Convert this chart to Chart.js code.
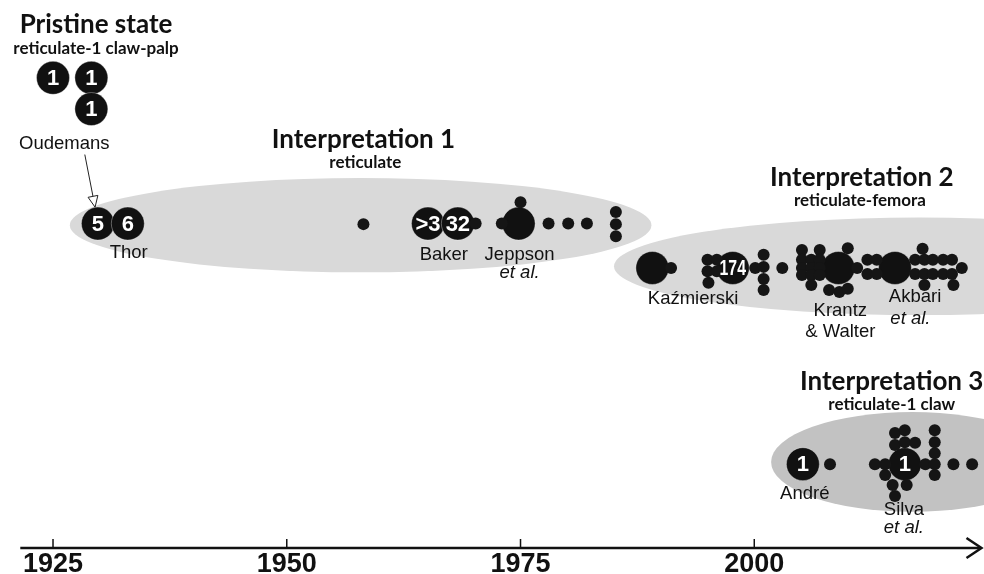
<!DOCTYPE html>
<html>
<head>
<meta charset="utf-8">
<script src="https://cdn.jsdelivr.net/npm/chart.js@4/dist/chart.umd.min.js"></script>
<style>
  html, body { margin: 0; padding: 0; background: #fff; }
  #wrap { position: relative; width: 984px; height: 574px; }
</style>
</head>
<body>
<div id="wrap"><canvas id="chart"></canvas></div>
<script>
// x = year, y = vertical level (0 at the time axis, 100 at the top)
const yearTicks = [1925, 1950, 1975, 2000];

// numbered circles: [year, level, label]
const pristineCircles = [[1925.0, 85.8, "1"], [1929.1, 85.8, "1"], [1929.1, 80.1, "1"]];
const interp1Circles = [[1929.8, 59.2, "5"], [1933.0, 59.2, "6"], [1965.1, 59.2, ">3"], [1968.3, 59.2, "32"], [1974.8, 59.2, ""]];
const interp2Circles = [[1989.1, 51.1, ""], [1997.7, 51.1, "174"], [2009.0, 51.1, ""], [2015.05, 51.1, ""]];
const interp3Circles = [[2005.2, 15.3, "1"], [2016.1, 15.3, "1"]];

// single records: [year, level]
const interp1Dots = [
  [1958.2, 59.1], [1970.2, 59.2], [1973.0, 59.2], [1975.0, 63.1],
  [1978.0, 59.2], [1980.1, 59.2], [1982.1, 59.2],
  [1985.2, 61.3], [1985.2, 59.1], [1985.2, 56.9]
];
const interp2Dots = [
  [1991.1, 51.1],
  [1995.0, 52.6], [1996.0, 52.6], [1995.0, 50.5], [1996.0, 50.5], [1995.1, 48.4],
  [2000.1, 51.1], [2001.0, 53.5], [2001.0, 51.3], [2001.0, 49.1], [2001.0, 47.1],
  [2003.0, 51.1],
  [2005.1, 54.4], [2007.0, 54.4],
  [2005.1, 52.6], [2006.1, 52.6], [2007.0, 52.6],
  [2005.1, 51.1], [2006.1, 51.1], [2007.0, 51.1],
  [2005.1, 49.8], [2006.1, 49.8], [2007.0, 49.8],
  [2006.1, 48.0], [2008.0, 47.1], [2009.1, 46.7], [2010.0, 47.3], [2010.0, 54.7],
  [2011.0, 51.1], [2012.1, 52.6], [2013.1, 52.6], [2012.1, 50.0], [2013.1, 50.0],
  [2017.2, 52.6], [2018.2, 52.6], [2019.1, 52.6], [2020.2, 52.6], [2021.15, 52.6],
  [2017.2, 50.0], [2018.2, 50.0], [2019.1, 50.0], [2020.2, 50.0], [2021.15, 50.0],
  [2022.2, 51.1], [2018.0, 54.6], [2018.2, 48.0], [2021.3, 48.0]
];
const interp3Dots = [
  [2008.1, 15.3],
  [2012.9, 15.3], [2014.0, 15.3], [2014.0, 13.3], [2014.8, 11.5], [2016.3, 11.5], [2015.05, 9.5],
  [2015.05, 21.0], [2016.1, 21.5], [2015.05, 18.8], [2016.1, 19.3], [2017.2, 19.2],
  [2018.3, 15.3],
  [2019.3, 21.5], [2019.3, 19.3], [2019.3, 17.3], [2019.3, 15.3], [2019.3, 13.3],
  [2021.3, 15.3], [2023.3, 15.3]
];

// shaded interpretation zones: [year, level, half-width in years, half-height in levels]
const zones = [
  { c: [1957.9, 58.9, 31.1, 8.6], fill: "#d9d9d9" },
  { c: [2017.7, 51.4, 32.7, 8.9], fill: "#d9d9d9" },
  { c: [2016.9, 15.7, 15.1, 9.1], fill: "#c2c2c2" }
];

const texts = [
  ["Pristine state", 1929.6, 95.6, "title"],
  ["reticulate-1 claw-palp", 1929.6, 91.2, "sub"],
  ["Interpretation 1", 1958.2, 74.6, "title"],
  ["reticulate", 1958.4, 70.3, "sub"],
  ["Interpretation 2", 2011.5, 67.5, "title"],
  ["reticulate-femora", 2011.3, 63.4, "sub"],
  ["Interpretation 3", 2014.7, 30.3, "title"],
  ["reticulate-1 claw", 2014.7, 26.2, "sub"],
  ["Oudemans", 1926.2, 73.7, "name"],
  ["Thor", 1933.1, 53.8, "name"],
  ["Baker", 1966.8, 53.5, "name"],
  ["Jeppson", 1974.9, 53.5, "name"],
  ["et al.", 1974.9, 50.2, "ital"],
  ["Kaźmierski", 1993.45, 45.4, "name"],
  ["Krantz", 2009.2, 43.2, "name"],
  ["& Walter", 2009.2, 39.4, "name"],
  ["Akbari", 2017.2, 45.8, "name"],
  ["et al.", 2016.7, 41.8, "ital"],
  ["André", 2005.4, 9.8, "name"],
  ["Silva", 2016.0, 6.9, "name"],
  ["et al.", 2016.0, 3.6, "ital"]
];
const oudemansArrow = [[1928.4, 71.8], [1929.5, 62.2]];
const axisSpan = [1921.5, 2024.3];

const fonts = {
  title: "bold 26px Lato",
  sub: "bold 17px Lato",
  name: "18.5px 'Liberation Sans'",
  ital: "italic 18.5px 'Liberation Sans'"
};

const circles = [...pristineCircles, ...interp1Circles, ...interp2Circles, ...interp3Circles]
  .map(c => ({ x: c[0], y: c[1], label: c[2] }));
const dots = [...interp1Dots, ...interp2Dots, ...interp3Dots].map(d => ({ x: d[0], y: d[1] }));

const timeline = {
  id: "timeline",
  beforeDatasetsDraw(chart) {
    const { ctx, scales: { x, y } } = chart;
    zones.forEach(z => {
      const [yr, lv, rxYr, ryLv] = z.c;
      const cx = x.getPixelForValue(yr), cy = y.getPixelForValue(lv);
      const rx = x.getPixelForValue(yr + rxYr) - cx;
      const ry = cy - y.getPixelForValue(lv + ryLv);
      ctx.save();
      ctx.fillStyle = z.fill;
      ctx.beginPath();
      ctx.ellipse(cx, cy, rx, ry, 0, 0, Math.PI * 2);
      ctx.fill();
      ctx.restore();
    });
  },
  afterDatasetsDraw(chart) {
    const { ctx, scales: { x, y } } = chart;
    ctx.save();
    ctx.textAlign = "center";
    ctx.textBaseline = "middle";

    // numbers in the circles
    chart.getDatasetMeta(1).data.forEach((pt, i) => {
      const lab = circles[i].label;
      if (!lab) return;
      ctx.save();
      ctx.fillStyle = "#fff";
      ctx.translate(pt.x, pt.y + 1);
      if (lab.length > 2) ctx.scale(0.72, 1); // condensed look for three-digit counts
      ctx.font = "bold 22px 'Liberation Sans'";
      ctx.fillText(lab, 0, 0);
      ctx.restore();
    });

    // titles and names
    texts.forEach(([t, yr, lv, kind]) => {
      ctx.fillStyle = "#111";
      ctx.font = fonts[kind];
      ctx.fillText(t, x.getPixelForValue(yr), y.getPixelForValue(lv));
    });

    // Oudemans -> Thor arrow
    const [a, b] = oudemansArrow;
    const x0 = x.getPixelForValue(a[0]), y0 = y.getPixelForValue(a[1]);
    const x1 = x.getPixelForValue(b[0]), y1 = y.getPixelForValue(b[1]);
    const ang = Math.atan2(y1 - y0, x1 - x0);
    const bx = x1 - 11 * Math.cos(ang), by = y1 - 11 * Math.sin(ang);
    ctx.strokeStyle = "#222";
    ctx.lineWidth = 1;
    ctx.beginPath();
    ctx.moveTo(x0, y0);
    ctx.lineTo(bx, by);
    ctx.stroke();
    ctx.beginPath();
    ctx.moveTo(x1, y1);
    ctx.lineTo(bx + 5 * Math.sin(ang), by - 5 * Math.cos(ang));
    ctx.lineTo(bx - 5 * Math.sin(ang), by + 5 * Math.cos(ang));
    ctx.closePath();
    ctx.fillStyle = "#fff";
    ctx.fill();
    ctx.stroke();
    ctx.restore();
  },
  afterDraw(chart) {
    const { ctx, chartArea, scales: { x } } = chart;
    const yb = chartArea.bottom;
    const xs = x.getPixelForValue(axisSpan[0]), xe = x.getPixelForValue(axisSpan[1]);
    ctx.save();
    ctx.strokeStyle = "#111";
    ctx.lineWidth = 2.5;
    ctx.beginPath();
    ctx.moveTo(xs, yb);
    ctx.lineTo(xe - 1, yb);
    ctx.stroke();
    ctx.beginPath();
    ctx.moveTo(xe - 15, yb - 10);
    ctx.lineTo(xe, yb);
    ctx.lineTo(xe - 15, yb + 10);
    ctx.stroke();
    ctx.lineWidth = 1.5;
    yearTicks.forEach(v => {
      const px = x.getPixelForValue(v);
      ctx.beginPath();
      ctx.moveTo(px, yb);
      ctx.lineTo(px, yb - 9);
      ctx.stroke();
    });
    ctx.restore();
  }
};

new Chart(document.getElementById("chart"), {
  type: "scatter",
  data: {
    datasets: [
      {
        label: "records",
        data: dots,
        pointRadius: 6,
        pointHoverRadius: 6,
        backgroundColor: "#151515",
        borderWidth: 0,
        clip: false
      },
      {
        label: "grouped records",
        data: circles,
        pointRadius: 16.5,
        pointHoverRadius: 16.5,
        backgroundColor: "#111",
        borderColor: "rgba(255,255,255,0.35)",
        borderWidth: 1,
        clip: false
      }
    ]
  },
  options: {
    responsive: true,
    maintainAspectRatio: false,
    animation: false,
    layout: { padding: 0, autoPadding: false },
    plugins: { legend: { display: false }, tooltip: { enabled: false } },
    scales: {
      x: {
        type: "linear",
        min: 1919.33,
        max: 2024.57,
        afterBuildTicks: s => { s.ticks = yearTicks.map(v => ({ value: v })); },
        afterFit: s => { s.height = 26; },
        grid: { display: false, drawTicks: false },
        border: { display: false },
        ticks: {
          autoSkip: false,
          maxRotation: 0,
          padding: 6,
          color: "#111",
          font: { family: "'Liberation Sans'", weight: "bold", size: 27, lineHeight: 0.815 },
          callback: v => String(v)
        }
      },
      y: { display: false, min: 0, max: 100 }
    }
  },
  plugins: [timeline]
});
</script>
</body>
</html>
